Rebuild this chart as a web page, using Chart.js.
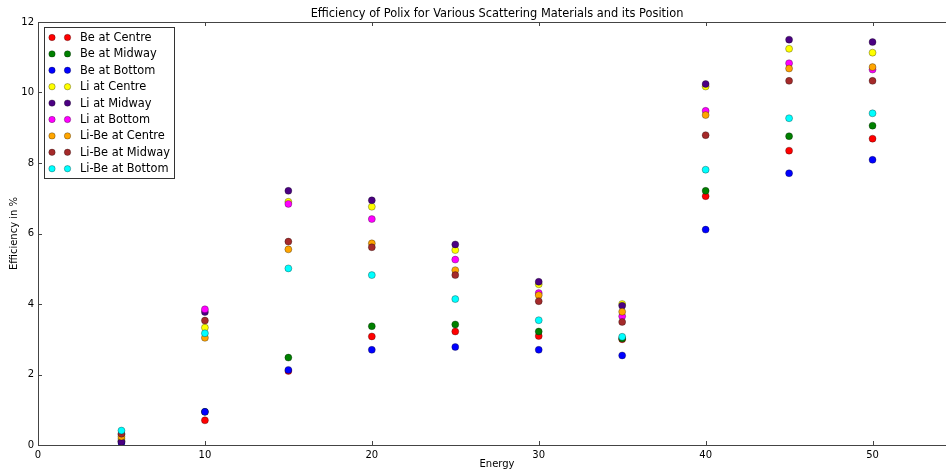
<!DOCTYPE html>
<html>
<head>
<meta charset="utf-8">
<script src="https://cdn.jsdelivr.net/npm/chart.js@4"></script>
<style>
    html, body { margin: 0; padding: 0; background: #fff; overflow: hidden; }
    #wrap { width: 960px; height: 470px; }
</style>
</head>
<body>
<div id="wrap"><canvas id="effChart"></canvas></div>
<script>
const energies = [5, 10, 15, 20, 25, 30, 35, 40, 45, 50];

const beCentre   = [0.10, 0.70, 2.10, 3.08, 3.22, 3.09, 3.00, 7.06, 8.35, 8.69];
const beMidway   = [0.12, 0.94, 2.48, 3.37, 3.42, 3.22, 3.02, 7.21, 8.76, 9.06];
const beBottom   = [0.06, 0.94, 2.13, 2.70, 2.78, 2.70, 2.54, 6.11, 7.71, 8.09];
const liCentre   = [0.18, 3.33, 6.90, 6.76, 5.53, 4.56, 4.00, 10.17, 11.24, 11.13];
const liMidway   = [0.09, 3.77, 7.21, 6.94, 5.69, 4.63, 3.95, 10.24, 11.50, 11.43];
const liBottom   = [0.30, 3.85, 6.84, 6.41, 5.26, 4.31, 3.65, 9.48, 10.83, 10.65];
const liBeCentre = [0.24, 3.04, 5.55, 5.72, 4.96, 4.25, 3.78, 9.36, 10.68, 10.72];
const liBeMidway = [0.32, 3.53, 5.77, 5.61, 4.82, 4.08, 3.49, 8.79, 10.33, 10.33];
const liBeBottom = [0.41, 3.17, 5.01, 4.82, 4.14, 3.54, 3.07, 7.81, 9.27, 9.41];

const seriesLabels = ['Be at Centre', 'Be at Midway', 'Be at Bottom', 'Li at Centre', 'Li at Midway',
    'Li at Bottom', 'Li-Be at Centre', 'Li-Be at Midway', 'Li-Be at Bottom'];
const seriesValues = [beCentre, beMidway, beBottom, liCentre, liMidway, liBottom, liBeCentre, liBeMidway, liBeBottom];
const seriesColors = ['#ff0000', '#008000', '#0000ff', '#ffff00', '#4b0082', '#ff00ff', '#ffa500', '#a52a2a', '#00ffff'];

const chartTitle = 'Efficiency of Polix for Various Scattering Materials and its Position';
const FONT = 'DejaVu Sans';

// title centred over the plot area rather than the canvas
const plotTitle = {
    id: 'plotTitle',
    afterDraw(chart) {
        const { ctx, chartArea: a } = chart;
        ctx.save();
        ctx.font = `11.4px "${FONT}"`;
        ctx.fillStyle = '#000';
        ctx.textAlign = 'center';
        ctx.textBaseline = 'middle';
        ctx.fillText(chartTitle, (a.left + a.right) / 2, 14.5);
        ctx.restore();
    }
};

// legend box in the upper-left corner, two markers per entry
const dotLegend = {
    id: 'dotLegend',
    afterDraw(chart) {
        const ctx = chart.ctx;
        const x0 = 44.5, y0 = 27.5, w = 130, h = 151, step = 16.4;
        ctx.save();
        ctx.fillStyle = '#fff';
        ctx.strokeStyle = '#333';
        ctx.lineWidth = 1;
        ctx.fillRect(x0, y0, w, h);
        ctx.strokeRect(x0, y0, w, h);
        ctx.font = `11.4px "${FONT}"`;
        ctx.textBaseline = 'middle';
        chart.data.datasets.forEach((ds, i) => {
            const y = 37.5 + i * step;
            [52, 67.5].forEach(mx => {
                ctx.beginPath();
                ctx.arc(mx, y, 3.2, 0, Math.PI * 2);
                ctx.fillStyle = ds.backgroundColor;
                ctx.fill();
                ctx.lineWidth = 0.5;
                ctx.strokeStyle = 'rgba(0,0,0,0.6)';
                ctx.stroke();
            });
            ctx.fillStyle = '#000';
            ctx.fillText(ds.label, 80, y + 0.5);
        });
        ctx.restore();
    }
};

// frame round the plot and inward ticks on all four sides
const frameTicks = {
    id: 'frameTicks',
    afterDatasetsDraw(chart) {
        const { ctx, chartArea: a, scales } = chart;
        ctx.save();
        ctx.strokeStyle = '#444';
        ctx.lineWidth = 1;
        ctx.strokeRect(Math.round(a.left) + 0.5, Math.round(a.top) + 0.5,
            Math.round(a.right - a.left), Math.round(a.bottom - a.top));
        ctx.beginPath();
        scales.x.ticks.forEach(t => {
            const px = Math.round(scales.x.getPixelForValue(t.value)) + 0.5;
            ctx.moveTo(px, a.bottom); ctx.lineTo(px, a.bottom - 4);
            ctx.moveTo(px, a.top); ctx.lineTo(px, a.top + 4);
        });
        scales.y.ticks.forEach(t => {
            const py = Math.round(scales.y.getPixelForValue(t.value)) + 0.5;
            ctx.moveTo(a.left, py); ctx.lineTo(a.left + 4, py);
            ctx.moveTo(a.right, py); ctx.lineTo(a.right - 4, py);
        });
        ctx.stroke();
        ctx.restore();
    }
};

new Chart(document.getElementById('effChart'), {
    type: 'scatter',
    data: {
        datasets: seriesLabels.map((label, i) => ({
            label: label,
            data: energies.map((e, j) => ({ x: e, y: seriesValues[i][j] })),
            backgroundColor: seriesColors[i],
            borderColor: 'rgba(0,0,0,0.6)',
            borderWidth: 0.5,
            pointRadius: 3.5,
            pointHoverRadius: 3.5,
            order: seriesLabels.length - i
        }))
    },
    plugins: [frameTicks, dotLegend, plotTitle],
    options: {
        responsive: true,
        maintainAspectRatio: false,
        animation: false,
        layout: { padding: { left: 0, right: 2, top: 22, bottom: 0 } },
        plugins: {
            legend: { display: false },
            tooltip: { enabled: false },
            title: { display: false }
        },
        scales: {
            x: {
                type: 'linear',
                min: 0,
                max: 55,
                grid: { display: false, drawTicks: false },
                border: { display: false },
                ticks: { stepSize: 10, includeBounds: false, padding: 4, color: '#000', font: { family: FONT, size: 10 } },
                title: { display: true, text: 'Energy', color: '#000', font: { family: FONT, size: 10 }, padding: { top: 0, bottom: 0 } },
                afterFit(scale) { scale.height = 25; }
            },
            y: {
                min: 0,
                max: 12,
                grid: { display: false, drawTicks: false },
                border: { display: false },
                ticks: { stepSize: 2, padding: 4, color: '#000', font: { family: FONT, size: 10 } },
                title: { display: true, text: 'Efficiency in %', color: '#000', font: { family: FONT, size: 10 }, padding: { top: 8, bottom: 0 } },
                afterFit(scale) { scale.width = 38; }
            }
        }
    }
});
</script>
</body>
</html>
